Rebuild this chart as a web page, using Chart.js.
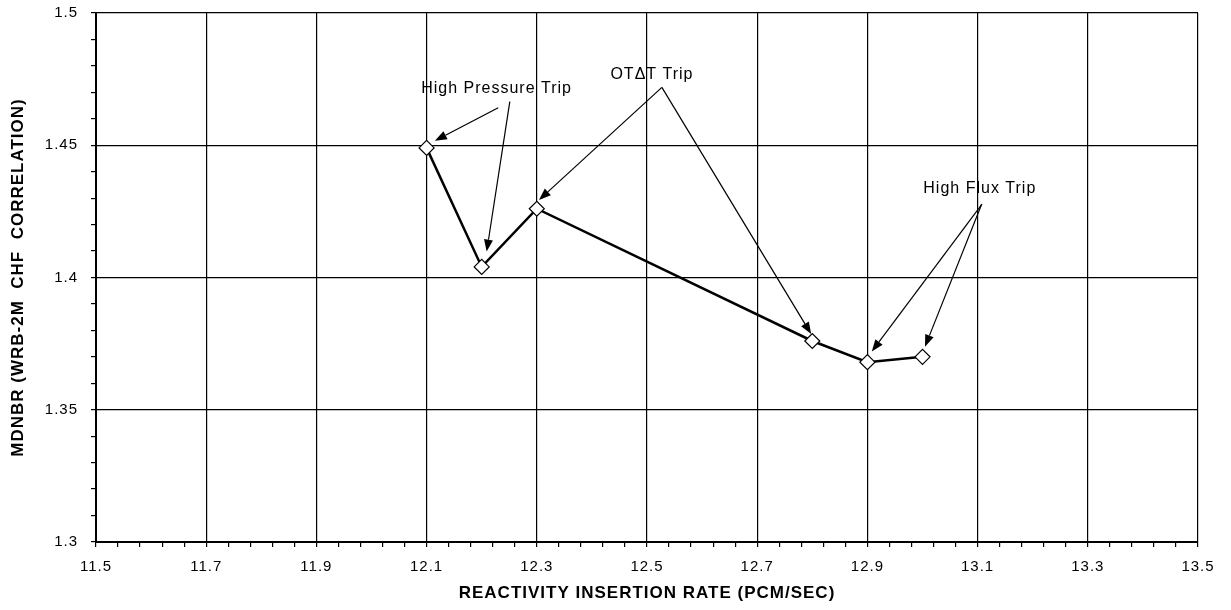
<!DOCTYPE html>
<html>
<head>
<meta charset="utf-8">
<script src="https://cdn.jsdelivr.net/npm/chart.js@4/dist/chart.umd.min.js"></script>
<style>
  html, body { margin: 0; padding: 0; background: #fff; }
  canvas { display: block; }
</style>
</head>
<body>
<canvas id="mdnbrChart" width="1231" height="610"></canvas>
<script>
// Data
const insertionRate = [12.1, 12.2, 12.3, 12.8, 12.9, 13.0];
const mdnbr = [1.449, 1.404, 1.426, 1.376, 1.368, 1.370];

// Axis ranges and tick spacing
const xMin = 11.5, xMax = 13.5, xMajor = 0.2, xMinor = 0.04;
const yMin = 1.3, yMax = 1.5, yMajor = 0.05, yMinor = 0.01;

// Callout labels (data coordinates of the text centre)
const noteLabels = ['High Pressure Trip', 'OT\u0394T Trip', 'High Flux Trip'];
const noteX = [12.227, 12.509, 13.104];
const noteY = [1.4713, 1.4766, 1.4338];

// Callout arrows (tail -> head, data coordinates)
const arrowFromX = [12.230, 12.251, 12.527, 12.527, 13.108, 13.107];
const arrowFromY = [1.4642, 1.4665, 1.4719, 1.4719, 1.4277, 1.4275];
const arrowToX = [12.115, 12.209, 12.304, 12.798, 12.908, 13.0045];
const arrowToY = [1.4517, 1.4098, 1.4293, 1.3786, 1.3720, 1.3738];

const fontFamily = '"Liberation Sans", Arial, Helvetica, sans-serif';

function isMultiple(v, origin, step) {
    const k = (v - origin) / step;
    return Math.abs(k - Math.round(k)) < 1e-6;
}

// Arrows and callout text
const calloutPlugin = {
    id: 'callouts',
    afterDatasetsDraw(chart) {
        const ctx = chart.ctx;
        const xs = chart.scales.x, ys = chart.scales.y;
        ctx.save();
        ctx.strokeStyle = '#000';
        ctx.fillStyle = '#000';
        ctx.lineWidth = 1.2;
        for (let i = 0; i < arrowFromX.length; i++) {
            const x0 = xs.getPixelForValue(arrowFromX[i]);
            const y0 = ys.getPixelForValue(arrowFromY[i]);
            const x1 = xs.getPixelForValue(arrowToX[i]);
            const y1 = ys.getPixelForValue(arrowToY[i]);
            const ang = Math.atan2(y1 - y0, x1 - x0);
            const headLen = 12, headW = 4.5;
            const bx = x1 - Math.cos(ang) * headLen;
            const by = y1 - Math.sin(ang) * headLen;
            ctx.beginPath();
            ctx.moveTo(x0, y0);
            ctx.lineTo(bx, by);
            ctx.stroke();
            ctx.beginPath();
            ctx.moveTo(x1, y1);
            ctx.lineTo(bx + Math.sin(ang) * headW, by - Math.cos(ang) * headW);
            ctx.lineTo(bx - Math.sin(ang) * headW, by + Math.cos(ang) * headW);
            ctx.closePath();
            ctx.fill();
        }
        ctx.font = '16px ' + fontFamily;
        ctx.textAlign = 'center';
        ctx.textBaseline = 'middle';
        ctx.letterSpacing = '1px';
        for (let i = 0; i < noteLabels.length; i++) {
            ctx.fillText(noteLabels[i], xs.getPixelForValue(noteX[i]), ys.getPixelForValue(noteY[i]));
        }
        ctx.restore();
    },
    beforeDraw(chart) {
        chart.ctx.letterSpacing = '1px';
    }
};

const chart = new Chart(document.getElementById('mdnbrChart'), {
    type: 'line',
    data: {
        datasets: [{
            data: insertionRate.map((x, i) => ({ x: x, y: mdnbr[i] })),
            borderColor: '#000',
            borderWidth: 2.5,
            tension: 0,
            pointStyle: 'rectRot',
            pointRadius: 7.5,
            pointBackgroundColor: '#fff',
            pointBorderColor: '#000',
            pointBorderWidth: 1.2
        }]
    },
    options: {
        responsive: false,
        animation: false,
        devicePixelRatio: 1,
        layout: {
            padding: { top: 13, right: 33, bottom: 0, left: 0 }
        },
        plugins: {
            legend: { display: false },
            tooltip: { enabled: false }
        },
        scales: {
            x: {
                type: 'linear',
                min: xMin,
                max: xMax,
                afterFit(scale) {
                    scale.height = 68;
                    scale.paddingLeft = 0;
                    scale.paddingRight = 0;
                },
                border: { display: true, color: '#000', width: 2 },
                grid: {
                    color: (c) => isMultiple(c.tick.value, xMin, xMajor) ? '#000' : 'rgba(0,0,0,0)',
                    tickColor: '#000',
                    tickLength: 5,
                    lineWidth: 1.2
                },
                ticks: {
                    stepSize: xMinor,
                    autoSkip: false,
                    maxRotation: 0,
                    padding: 11,
                    color: '#000',
                    font: { family: fontFamily, size: 15 },
                    callback: (v) => isMultiple(v, xMin, xMajor) ? Number(v).toFixed(1) : ''
                },
                title: {
                    display: true,
                    text: 'REACTIVITY INSERTION RATE (PCM/SEC)',
                    color: '#000',
                    font: { family: fontFamily, size: 17, weight: 'bold' },
                    padding: { top: 4, bottom: 6 }
                }
            },
            y: {
                min: yMin,
                max: yMax,
                afterFit(scale) {
                    scale.width = 96;
                    scale.paddingTop = 0;
                    scale.paddingBottom = 0;
                },
                border: { display: true, color: '#000', width: 2 },
                grid: {
                    color: (c) => isMultiple(c.tick.value, yMin, yMajor) ? '#000' : 'rgba(0,0,0,0)',
                    tickColor: '#000',
                    tickLength: 5,
                    lineWidth: 1.2
                },
                ticks: {
                    stepSize: yMinor,
                    autoSkip: false,
                    padding: 13,
                    color: '#000',
                    font: { family: fontFamily, size: 15 },
                    callback: (v) => isMultiple(v, yMin, yMajor) ? String(Number(Number(v).toFixed(2))) : ''
                },
                title: {
                    display: true,
                    text: 'MDNBR (WRB-2M  CHF  CORRELATION)',
                    color: '#000',
                    font: { family: fontFamily, size: 17, weight: 'bold' },
                    padding: { top: 8, bottom: 0 }
                }
            }
        }
    },
    plugins: [calloutPlugin]
});
</script>
</body>
</html>
